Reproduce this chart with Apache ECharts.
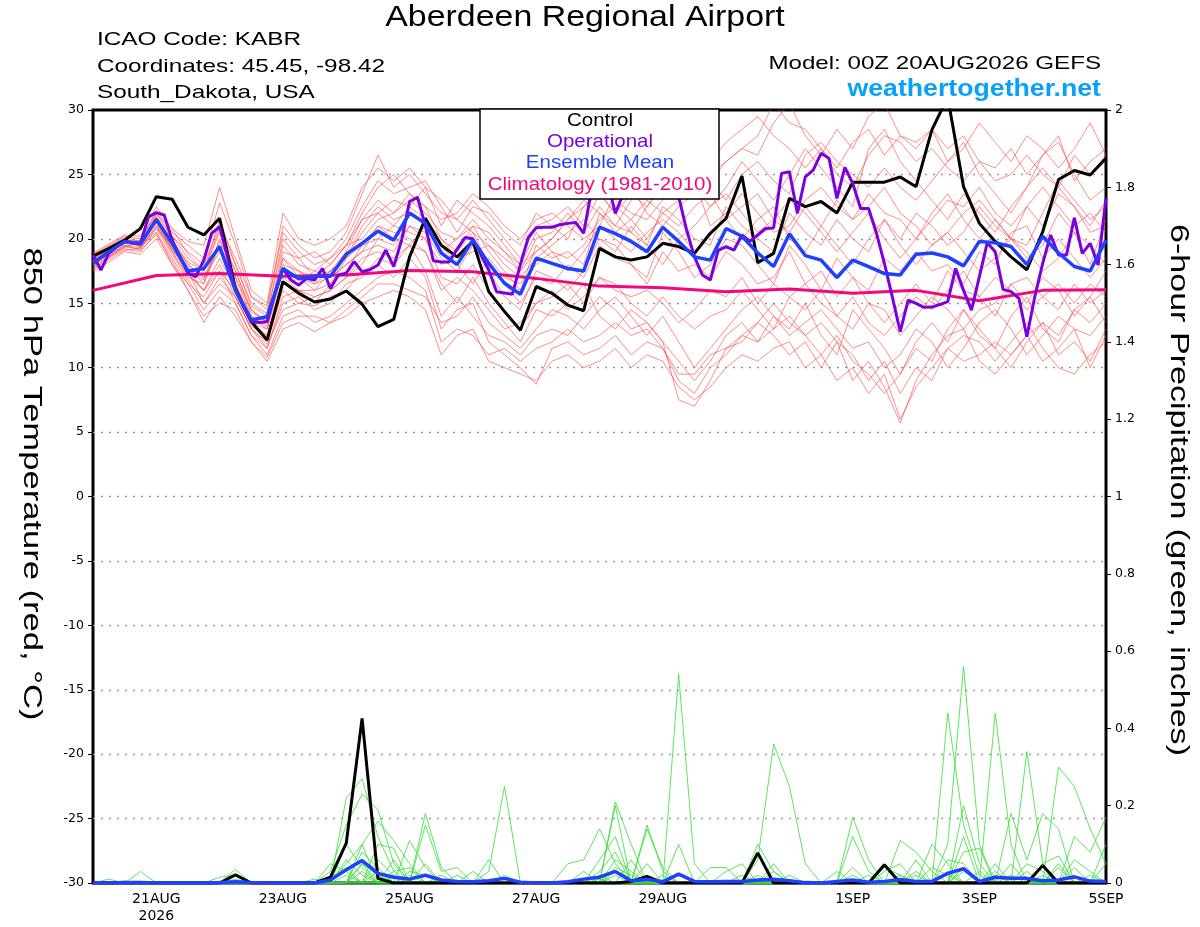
<!DOCTYPE html>
<html><head><meta charset="utf-8">
<script src="https://cdn.jsdelivr.net/npm/echarts@6/dist/echarts.min.js"></script>
<style>html,body{margin:0;padding:0;background:#fff}#c{width:1200px;height:927px}</style>
</head><body><div id="c"></div>
<script>
// ---------- tick labels ----------
const tickHours = [24, 72, 120, 168, 216, 288, 336, 384];
const tickLabels = ['21AUG\n2026', '23AUG', '25AUG', '27AUG', '29AUG', '1SEP', '3SEP', '5SEP'];

// ---------- 850 hPa temperature (6-hourly, from 00Z 20AUG) ----------
const control = [18.66,19.26,19.9,20.8,23.27,23.07,20.9,20.3,21.6,16.15,13.57,12.14,16.67,
15.77,15.1,15.33,15.95,14.94,13.18,13.75,18.6,21.6,19.5,18.6,19.8,15.9,
14.35,12.9,16.3,15.77,14.86,14.42,19.26,18.6,18.35,18.6,19.65,19.4,18.87,
20.43,21.6,24.88,18.15,18.87,23.15,22.5,22.9,22.0,24.4,24.4,24.4,24.8,
24.05,28.45,31.0,24.05,21.2,19.8,18.6,17.6,20.55,24.6,25.3,24.95,26.25];

const ensMean = [18.1,19.0,19.8,19.6,21.5,19.65,17.5,17.7,19.4,16.0,13.7,13.95,17.7,
16.9,17.1,17.1,18.8,19.65,20.6,19.9,22.0,21.2,18.9,18.0,19.9,18.1,
16.55,15.7,18.5,18.1,17.7,17.5,20.9,20.4,19.8,19.0,20.9,19.8,18.6,
18.35,20.8,20.2,18.9,17.85,20.4,18.7,18.35,17.0,18.35,17.85,17.3,17.2,
18.8,18.9,18.6,17.9,19.8,19.7,19.4,18.0,20.2,18.9,17.85,17.5,19.9];

// operational (3-hourly)
const operational = [18.74,17.58,18.87,19.4,19.8,19.7,19.65,21.7,22.03,21.85,19.9,18.6,17.33,17.06,18.35,20.43,
20.94,18.6,16.0,14.73,13.57,13.5,13.57,15.77,17.7,16.8,16.4,16.93,16.8,17.7,16.15,17.2,
17.33,18.23,17.45,17.6,17.97,19.13,17.85,19.9,22.9,23.23,21.0,18.3,18.2,18.2,19.2,20.1,
20.0,18.8,17.58,15.9,15.8,15.7,18.0,20.1,20.86,20.9,20.9,21.1,21.2,21.26,20.43,23.8,
25.0,24.5,21.98,23.5,25.0,25.5,24.5,25.0,26.0,25.0,23.3,20.7,18.6,17.2,16.8,19.1,
19.4,19.13,20.3,19.8,20.3,20.8,20.85,25.08,25.2,21.98,24.8,25.34,26.64,26.25,23.14,25.55,
24.3,22.36,22.36,20.43,18.1,15.5,12.79,15.25,14.99,14.68,14.7,14.9,15.12,17.7,16.0,14.47,
17.06,19.7,19.0,16.08,15.9,15.38,12.4,15.5,18.1,20.3,18.74,18.74,21.64,18.87,19.65,17.97,
23.14];

// climatology (daily)
const climatology = [16.0,17.15,17.3,17.1,17.2,17.55,17.45,16.93,16.33,16.2,15.9,16.1,15.77,16.0,15.2,16.0,16.05];

// ensemble members (6-hourly)
const ens01 = [18.5,19.2,19.8,19.9,22.2,20.5,19.5,18.5,22.8,19.5,15.5,14.5,21.0,
19.5,18.5,19.0,20.5,23.5,26.5,24.0,25.0,23.5,22.0,21.5,23.0,21.5,
20.0,18.5,21.0,21.5,22.5,21.0,23.5,22.0,23.5,22.5,24.0,23.0,25.5,
26.0,27.5,28.5,29.5,28.0,27.0,25.5,27.0,25.0,24.0,26.5,28.0,27.5,
26.0,27.0,25.5,24.5,26.0,25.5,27.0,25.0,26.5,28.0,24.5,26.0,27.0];
const ens02 = [17.5,18.2,19.0,18.8,20.0,18.0,16.0,13.5,15.5,14.0,12.0,10.5,13.0,
13.5,12.8,13.5,14.0,15.0,15.5,16.0,15.5,14.5,11.0,12.5,13.0,10.5,
10.0,9.5,9.0,10.5,11.0,10.0,10.5,11.5,10.0,11.0,10.5,8.5,7.5,
8.5,10.0,11.0,10.5,11.5,12.0,10.0,11.0,9.0,10.0,8.0,9.5,6.0,
8.5,10.0,11.5,10.5,11.0,12.0,11.0,12.5,10.5,11.5,13.0,10.0,12.5];
const ens03 = [18.0,18.8,19.5,19.3,21.0,19.0,17.0,16.5,20.0,17.0,14.5,13.5,18.5,
17.0,16.5,17.5,19.0,21.5,23.0,22.0,23.5,22.5,20.0,19.0,21.0,19.0,
17.5,16.0,19.5,18.5,19.0,18.0,22.0,21.0,20.5,19.5,22.5,21.5,20.0,
19.5,22.5,21.0,20.0,19.0,22.0,20.5,19.5,21.5,20.0,19.0,21.5,20.0,
22.0,21.0,19.5,20.5,22.5,21.0,20.0,18.5,19.5,22.0,20.5,18.0,21.5];
const ens04 = [18.3,19.0,19.8,19.5,21.3,19.2,17.5,15.0,17.0,15.5,13.0,11.5,15.0,
15.5,14.5,15.0,16.5,17.0,18.5,18.0,19.5,17.5,14.0,15.5,14.0,12.5,
12.0,11.0,12.5,13.0,12.5,14.0,15.5,14.5,13.0,13.5,12.0,10.5,9.0,
10.5,12.5,13.5,12.0,14.0,13.0,15.0,12.5,11.0,14.5,13.0,11.5,9.5,
12.0,13.5,12.0,14.5,13.0,11.5,14.0,15.5,13.0,12.0,14.5,13.5,15.0];
const ens05 = [18.8,19.5,20.2,20.0,22.0,20.2,18.5,17.5,21.5,18.0,15.0,14.2,19.5,
18.0,17.5,18.5,20.0,22.5,24.5,23.5,24.0,24.5,22.5,20.5,22.5,22.0,
20.5,19.5,22.0,21.0,20.0,22.5,24.0,23.0,22.0,21.5,23.0,24.5,26.0,
25.0,26.0,27.0,26.5,29.0,30.5,28.0,26.5,28.5,27.0,29.5,30.5,28.0,
27.5,28.5,27.0,28.0,26.0,24.5,25.0,26.5,25.0,24.0,26.5,25.0,26.5];
const ens06 = [17.8,18.6,19.2,19.0,20.5,18.5,16.5,14.5,16.0,15.0,12.5,11.0,14.0,
14.5,13.5,14.0,15.0,16.0,17.0,17.5,17.0,16.0,12.0,13.0,12.5,11.0,
11.5,10.5,11.5,12.0,13.0,12.0,12.5,13.5,12.5,13.0,11.5,9.5,9.5,
11.0,11.5,12.5,13.5,12.5,11.0,12.0,10.0,12.0,9.0,10.5,8.5,5.7,
9.0,11.0,12.5,13.0,10.5,9.5,11.0,12.5,13.5,11.0,12.0,10.5,13.0];
const ens07 = [18.2,19.0,19.6,19.8,21.6,20.0,18.0,17.0,19.0,16.5,13.5,12.5,17.0,
16.0,16.0,16.5,18.5,19.5,20.0,21.0,22.5,24.0,23.0,21.5,20.5,18.0,
16.5,15.0,17.0,16.5,18.0,17.0,19.5,18.5,18.0,16.5,19.0,17.5,18.0,
17.0,19.0,18.0,16.5,17.0,19.0,16.5,17.5,15.5,17.0,15.0,13.5,15.0,
16.5,15.0,17.5,16.0,15.5,17.0,16.0,14.5,15.5,16.5,15.0,16.5,15.5];
const ens08 = [17.6,18.5,19.4,19.2,20.8,19.5,17.5,16.0,18.0,15.5,13.0,12.0,16.0,
15.0,15.5,16.0,17.0,18.0,20.0,19.5,21.0,20.0,17.0,16.5,18.0,16.0,
14.5,13.0,15.0,15.5,16.5,15.0,17.0,16.0,15.5,16.0,15.0,13.5,14.5,
16.0,15.5,17.0,15.0,16.5,15.5,14.5,16.0,14.0,13.0,15.0,14.5,12.5,
14.0,15.5,14.5,13.0,14.5,15.0,16.5,15.0,17.0,16.0,14.0,15.5,17.5];
const ens09 = [18.6,19.3,20.0,19.7,21.8,20.2,19.0,18.0,21.0,18.5,15.5,14.8,20.5,
19.0,18.0,18.5,19.5,22.0,24.0,25.0,23.5,22.5,21.5,22.0,23.5,22.5,
21.0,20.0,21.5,22.0,21.0,20.0,21.0,23.5,24.0,22.0,21.0,22.5,23.5,
24.5,23.0,25.0,26.0,24.5,23.5,26.5,27.5,26.0,25.0,24.0,25.5,24.0,
23.0,24.5,26.0,27.5,25.0,23.5,22.0,24.0,25.5,24.0,22.5,21.0,23.0];
const ens10 = [18.0,18.9,19.7,19.6,21.2,19.0,17.2,16.0,18.5,16.0,13.5,13.0,17.5,
16.5,17.5,17.0,18.0,19.0,19.5,19.0,21.0,20.5,18.5,17.5,19.5,17.5,
15.5,14.5,17.5,17.0,16.0,17.5,20.0,19.5,18.0,17.0,20.5,19.0,17.0,
18.0,20.0,19.5,18.0,16.5,19.5,18.0,16.0,18.5,17.0,16.0,18.5,17.5,
19.0,17.5,18.0,16.5,19.0,18.0,20.5,21.0,18.5,20.0,18.5,17.0,18.5];
const ens11 = [18.4,19.1,19.9,19.4,20.5,18.0,16.5,15.5,17.5,15.0,12.5,11.5,15.5,
16.0,15.0,16.5,17.5,19.5,21.0,20.5,20.0,19.0,16.5,15.0,17.0,15.0,
13.5,12.0,14.5,14.0,15.0,16.5,14.0,13.0,14.5,13.5,12.0,7.5,7.0,
9.0,11.5,12.0,13.5,15.0,13.5,12.5,11.0,12.5,10.5,9.5,8.0,9.5,
11.5,10.5,13.0,14.5,12.5,11.5,10.0,12.0,13.5,12.5,14.5,15.5,13.5];
const ens12 = [18.1,18.7,19.3,19.9,21.9,20.8,18.8,17.5,20.5,17.5,14.5,13.5,19.0,
18.5,17.0,17.5,18.5,21.0,22.5,21.5,22.0,21.0,19.0,20.0,21.5,20.0,
19.0,17.5,20.0,20.5,22.0,20.5,22.5,21.0,23.0,24.5,23.5,25.5,24.0,
22.5,24.0,26.0,24.5,23.0,25.0,27.0,25.5,24.0,22.5,27.0,28.5,26.0,
24.5,23.0,21.5,23.5,22.0,20.5,22.5,24.0,26.5,27.5,25.0,23.0,24.0];
const ens13 = [17.9,18.6,19.5,19.1,20.3,18.3,16.0,14.0,15.0,14.5,12.0,10.8,13.5,
14.0,14.0,13.5,14.5,15.5,16.5,16.5,16.0,15.5,13.5,14.0,15.5,13.5,
12.5,11.5,13.0,14.5,14.0,13.0,14.5,15.5,14.0,12.5,14.0,12.0,10.0,
11.5,13.0,14.5,15.5,14.0,12.5,13.5,14.5,13.0,11.5,12.0,10.0,11.0,
13.0,12.0,10.0,11.5,13.5,14.5,13.0,11.0,12.5,14.0,13.0,12.5,14.0];
const ens14 = [18.9,19.6,20.3,20.2,22.5,20.8,19.8,19.5,24.0,20.0,16.0,15.0,22.0,
20.0,19.5,20.0,21.0,24.0,25.5,24.5,25.5,24.0,21.0,23.0,22.0,21.0,
19.5,18.0,19.0,20.0,21.5,23.0,22.0,20.5,21.5,23.0,22.0,21.0,22.5,
23.5,21.5,22.5,23.5,21.5,20.5,22.5,21.0,23.0,21.5,23.5,22.0,21.5,
20.0,21.5,23.0,22.5,24.0,22.0,21.0,22.5,21.0,23.5,22.5,20.5,21.0];
const ens15 = [18.3,19.2,19.9,19.5,21.4,19.5,17.8,16.5,19.5,16.5,14.0,13.0,18.0,
17.5,16.5,17.0,18.0,19.0,21.0,20.0,19.5,21.0,19.5,18.0,16.5,18.5,
17.0,16.5,18.0,19.0,17.5,19.0,21.0,20.0,19.0,20.5,21.5,20.5,19.0,
20.5,21.5,20.0,21.5,22.5,20.0,19.0,21.0,19.5,18.0,20.0,21.5,19.5,
18.0,19.5,20.5,19.0,17.5,18.5,20.0,19.0,17.5,18.5,20.5,19.5,18.0];
const ens16 = [17.7,18.4,19.1,19.3,20.8,18.8,16.8,15.0,16.5,15.5,13.0,11.8,14.5,
15.0,14.8,15.5,16.0,17.5,18.0,17.0,18.5,17.0,13.0,14.5,15.0,12.0,
11.0,10.0,8.7,11.5,12.0,11.0,11.5,12.5,11.0,12.0,11.5,9.0,8.0,
10.0,11.0,12.5,12.0,13.0,14.0,12.5,13.5,12.0,11.0,9.0,10.5,8.0,
10.0,9.0,11.5,12.5,12.0,10.5,12.0,13.5,11.5,10.0,9.5,11.0,12.0];
const ens17 = [18.6,19.4,20.1,19.8,21.7,19.8,18.2,17.5,20.8,18.0,14.8,14.0,20.0,
18.5,19.0,18.0,19.5,21.5,22.0,23.0,22.5,21.5,20.0,18.5,19.0,19.5,
18.0,17.0,18.5,19.5,20.5,21.5,20.0,19.0,21.0,19.5,18.0,20.0,21.0,
22.5,23.5,22.0,20.5,21.5,23.0,22.0,20.5,19.0,20.5,22.0,20.0,18.5,
20.0,22.0,23.5,21.5,20.0,21.5,20.0,22.5,24.0,22.5,21.0,22.0,20.5];
const ens18 = [18.2,18.9,19.7,19.4,21.0,19.2,17.6,16.8,19.5,17.0,14.0,13.2,17.5,
17.0,16.0,17.5,18.5,20.5,22.0,21.0,20.5,20.0,18.0,19.0,20.5,19.5,
18.5,17.5,19.0,20.0,21.5,22.5,23.5,22.0,20.5,22.5,24.5,25.0,23.5,
24.5,26.0,27.0,28.0,30.5,29.0,28.5,27.0,25.5,27.5,28.5,26.5,28.0,
27.0,28.5,26.0,27.0,29.0,27.5,26.0,28.0,27.0,25.5,27.0,29.0,26.5];
const ens19 = [18.0,18.8,19.4,19.7,21.3,19.3,17.3,16.0,17.5,16.0,13.2,12.5,16.5,
16.0,15.5,16.0,17.0,18.5,19.0,18.5,19.5,19.0,16.0,17.0,16.0,14.5,
13.0,13.5,15.0,16.0,14.5,15.5,17.0,16.5,15.0,14.0,15.5,14.0,13.0,
14.0,14.5,16.0,14.5,13.0,15.5,16.5,15.0,14.0,15.5,13.5,12.5,14.0,
15.5,14.5,16.0,17.5,15.5,14.0,16.5,17.0,15.5,14.5,16.5,15.0,16.0];
const ens20 = [18.4,19.2,19.9,19.6,21.5,19.7,18.0,17.0,19.8,17.5,14.3,13.6,18.5,
17.5,17.0,18.0,19.5,20.0,21.5,22.0,23.0,22.0,20.5,20.0,21.0,20.5,
19.0,18.0,20.5,19.0,18.5,19.5,21.5,22.5,21.5,20.0,22.0,23.0,24.5,
21.0,22.0,23.5,22.0,20.5,21.0,23.0,24.0,22.5,21.5,22.5,24.0,22.0,
21.0,19.5,20.5,22.0,23.0,21.5,20.0,19.5,22.0,24.5,23.0,21.5,22.5];
const tempMembers = [ens01,ens02,ens03,ens04,ens05,ens06,ens07,ens08,ens09,ens10,ens11,ens12,ens13,ens14,ens15,ens16,ens17,ens18,ens19,ens20];

// ---------- 6-hour precipitation (inches) ----------
const precipControl = [0,0,0,0,0,0,0,0,0,0.021,0,0,0,
0,0,0.015,0.103,0.426,0.012,0,0,0,0,0,0,0,
0,0,0,0,0,0,0,0,0.004,0.017,0,0,0,
0,0,0,0.078,0,0,0,0,0,0,0,0.047,0,
0,0,0,0,0,0,0,0,0.045,0,0,0,0];
const precipMean = [0,0,0.001,0.001,0,0,0,0,0.001,0.003,0.001,0,0,
0,0,0.008,0.034,0.058,0.025,0.015,0.01,0.02,0.008,0.004,0.003,0.006,
0.012,0.002,0,0,0.003,0.01,0.015,0.03,0.006,0.01,0.003,0.023,0.004,
0.003,0.004,0.004,0.008,0.01,0.006,0.001,0,0.004,0.008,0.002,0.004,0.009,
0.004,0.004,0.025,0.037,0.004,0.015,0.012,0.012,0.006,0.008,0.016,0.005,0.004];
const pr01 = [0,0,0,.03,0,0,0,0,0,0,0,0,0, 0,0,0,.22,.27,.12,.03,0,0,0,0,0,0, 0,0,0,0,0,0,0,0,0,0,0,0,0, 0,0,0,0,.05,0,0,0,0,0,0,0,0, 0,0,0,.2,.05,0,0,0,0,0,0,0,0];
const pr02 = [0,0,0,0,0,0,0,0,0,0,0,0,0, 0,0,.03,.15,.23,.19,.05,0,0,0,0,0,0, 0,0,0,0,0,0,0,0,0,0,0,.54,.05, 0,0,0,0,0,0,0,0,0,0,0,0,0, 0,0,.1,.56,.1,0,0,0,0,0,0,0,0];
const pr03 = [0,0,0,0,0,0,0,0,0,.035,0,0,0, 0,0,0,0,.1,.16,.11,.05,0,0,0,0,0, 0,0,0,0,0,0,0,.21,.1,0,0,0,0, 0,0,0,.06,.36,.25,.05,0,0,0,0,0,0, 0,0,0,0,0,0,0,0,0,.3,.25,.14,.05];
const pr04 = [0,0,0,0,0,0,0,0,0,0,0,0,0, 0,0,0,0,.05,0,0,.11,.04,0,0,0,.03, .25,0,0,0,0,0,.06,.12,0,0,0,0,0, 0,0,0,0,0,0,0,0,0,.17,.06,0,0, 0,0,0,0,0,.44,.1,0,0,0,0,0,0];
const pr05 = [0,0,0,0,0,0,0,0,0,0,0,0,0, 0,0,0,0,0,.1,.09,0,.18,.04,0,0,0, 0,0,0,0,0,0,0,.2,0,.15,.03,0,0, 0,0,0,0,0,0,0,0,0,0,0,0,0, 0,0,.44,.15,.02,0,0,0,0,0,0,0,0];
const pr06 = [0,0,0,0,0,0,0,0,0,0,0,0,0, 0,0,0,.05,.1,0,0,0,.15,.03,.04,0,0, 0,0,0,0,.05,.06,.14,.05,0,0,0,0,0, 0,0,0,0,0,0,0,0,0,0,0,0,0, 0,0,0,0,0,0,0,.34,.05,0,0,0,0];
const pr07 = [0,0,0,0,0,0,0,0,.015,.02,0,0,0, 0,0,0,0,.05,.02,0,0,0,0,0,0,.06, 0,0,0,0,0,0,0,0,0,.14,.04,0,0, 0,0,0,.1,.03,0,0,0,0,0,0,0,.11, .08,.03,0,0,0,0,.18,.06,.18,.14,0,0,0];
const pr08 = [0,0,0,0,0,0,0,0,0,0,0,0,0, 0,0,.05,.03,0,0,.03,.04,0,0,0,0,0, 0,0,0,0,0,0,0,0,.06,0,0,.1,0, 0,.03,.05,0,0,0,0,0,0,.12,.03,0,0, 0,0,0,.12,0,.05,0,0,0,0,.12,.08,.17];
const pr09 = [0,0,0,0,0,0,0,0,0,0,0,0,0, 0,.01,0,.1,.04,0,0,0,0,.02,0,.03,0, 0,0,0,0,0,0,.03,.08,0,0,0,0,0, 0,0,0,0,0,0,0,0,.03,0,0,.03,.05, 0,.1,.05,0,0,0,0,0,.05,.07,0,0,.05];
const pr10 = [0,0,0,0,0,0,0,0,0,0,0,0,0, 0,0,0,0,0,.06,.02,0,.05,0,.02,0,0, 0,0,0,0,0,.03,0,0,0,0,0,0,0, .04,.04,0,0,0,.02,0,0,0,0,0,0,0, .06,0,0,.08,.09,0,0,.03,0,0,.04,0,0];
const pr11 = [0,.01,0,0,0,0,0,0,0,.01,0,0,0, 0,0,0,0,.03,0,0,.02,0,0,0,0,0, 0,0,0,0,0,0,0,.04,.02,0,0,0,0, 0,0,0,0,0,0,0,0,0,.04,0,0,0, 0,0,.06,.05,0,0,0,0,0,.05,0,.02,0];
const pr12 = [0,0,0,0,0,0,0,0,0,0,0,0,0, 0,0,0,.02,0,0,.06,0,0,0,0,0,0, .02,0,0,0,0,0,.02,0,0,.05,0,0,0, 0,0,0,.02,0,0,0,0,0,0,0,0,0, .03,0,0,.04,0,0,.05,0,0,0,0,0,.1];
const pr13 = [0,0,0,0,0,0,0,0,0,0,0,0,0, 0,0,0,0,.08,.04,0,0,0,0,0,0,0, 0,0,0,0,0,0,0,.03,0,0,0,0,0, 0,0,0,0,0,0,0,0,0,0,.02,0,0, 0,0,.03,0,0,.02,0,0,0,.04,0,0,0];
const pr14 = [0,0,0,0,0,0,0,0,0,0,0,0,0, 0,0,0,0,0,0,0,.03,.02,0,0,0,0, 0,0,0,0,0,0,0,0,0,0,.02,0,0, 0,0,.02,0,0,0,0,0,0,0,0,0,.02, 0,0,0,0,.03,0,0,.05,.03,0,0,0,0];
const pr15 = [0,0,0,0,0,0,0,0,0,0,0,0,0, 0,0,.015,.04,0,0,0,0,0,0,0,0,0, 0,0,0,0,0,0,0,.06,.03,0,0,0,0, 0,0,0,0,0,0,0,0,0,0,0,0,0, 0,.04,.02,0,0,0,0,0,0,0,.06,.03,0];
const pr16 = [0,0,0,0,0,0,0,0,0,0,0,0,0, 0,0,0,0,0,.03,0,0,0,.01,0,0,0, 0,0,0,0,0,0,0,0,0,0,0,0,0, 0,0,0,0,.03,0,0,0,0,0,0,0,0, 0,0,0,.03,0,0,.02,0,0,0,0,0,0];
const pr17 = [0,0,.005,0,0,0,0,0,0,0,0,0,0, 0,0,0,.06,.02,0,0,0,0,0,0,0,0, 0,0,0,0,0,0,0,.02,0,0,0,0,0, 0,0,0,0,0,0,0,0,0,0,0,.04,.02, 0,0,0,0,0,.03,0,0,0,0,0,0,0];
const pr18 = [0,0,0,0,0,0,0,0,0,0,0,0,0, 0,0,0,0,0,0,.015,0,0,0,0,0,0, 0,0,0,0,0,0,.01,0,0,0,0,0,0, 0,0,0,0,0,0,0,0,0,.02,0,0,0, .02,0,0,0,0,0,0,0,.02,0,0,0,0];
const precipMembers = [pr01,pr02,pr03,pr04,pr05,pr06,pr07,pr08,pr09,pr10,pr11,pr12,pr13,pr14,pr15,pr16,pr17,pr18];

// ---------- chart ----------
const FONT = '"Liberation Sans", Arial, Helvetica, sans-serif';
const TICKFONT = '"DejaVu Sans", Verdana, sans-serif';
const toPairs = (arr, step) => arr.map((v, i) => [i * step, v]);
const series = [];
tempMembers.forEach(m => series.push({
  type: 'line', yAxisIndex: 0, data: toPairs(m, 6), symbol: 'none', silent: true, z: 1,
  lineStyle: { color: '#ff4a4a', width: 0.7, opacity: 0.9 }
}));
precipMembers.forEach(m => series.push({
  type: 'line', yAxisIndex: 1, data: toPairs(m, 6), symbol: 'none', silent: true, z: 1,
  lineStyle: { color: '#33dd33', width: 0.8 }
}));
series.push({ type: 'line', yAxisIndex: 0, data: toPairs(climatology, 24), symbol: 'none', z: 3,
  lineStyle: { color: '#f0087c', width: 3 } });
series.push({ type: 'line', yAxisIndex: 0, data: toPairs(control, 6), symbol: 'none', z: 4,
  lineStyle: { color: '#000', width: 3 } });
series.push({ type: 'line', yAxisIndex: 0, data: toPairs(operational, 3), symbol: 'none', z: 5,
  lineStyle: { color: '#7a00dd', width: 3 } });
series.push({ type: 'line', yAxisIndex: 0, data: toPairs(ensMean, 6), symbol: 'none', z: 6,
  lineStyle: { color: '#2040ff', width: 3.5 } });
series.push({ type: 'line', yAxisIndex: 1, data: toPairs(precipControl, 6), symbol: 'none', z: 4,
  lineStyle: { color: '#000', width: 3 } });
series.push({ type: 'line', yAxisIndex: 1, data: toPairs(precipMean, 6), symbol: 'none', z: 6,
  lineStyle: { color: '#2040ff', width: 3.5 } });

const txt = (text, x, y, size, opts) => Object.assign({
  type: 'text', x: x, y: y, z: 100,
  style: Object.assign({ text: text, font: size + 'px ' + FONT, fill: '#000', align: 'left', verticalAlign: 'middle' }, opts && opts.style)
}, opts && opts.el);

const option = {
  animation: false,
  backgroundColor: '#fff',
  grid: { left: 93, right: 94, top: 110, bottom: 44, show: true, borderColor: '#000', borderWidth: 3, backgroundColor: 'transparent' },
  xAxis: {
    type: 'value', min: 0, max: 384, interval: 24,
    axisLine: { show: false }, axisTick: { show: false }, splitLine: { show: false },
    axisLabel: {
      color: '#000', fontSize: 14, fontFamily: TICKFONT, margin: 8, lineHeight: 17,
      formatter: v => { const i = tickHours.indexOf(v); return i >= 0 ? tickLabels[i] : ''; }
    }
  },
  yAxis: [{
    type: 'value', min: -30, max: 30, interval: 5, position: 'left',
    axisLine: { show: false },
    axisTick: { show: true, length: 5, lineStyle: { color: '#000', width: 1 } },
    axisLabel: { color: '#000', fontSize: 12.5, fontFamily: TICKFONT, margin: 9 },
    splitLine: { show: true, showMinLine: false, showMaxLine: false, lineStyle: { color: '#9a9a9a', type: [2, 6], width: 1.3 } }
  }, {
    type: 'value', min: 0, max: 2, interval: 0.2, position: 'right',
    axisLine: { show: false },
    axisTick: { show: true, length: 5, lineStyle: { color: '#000', width: 1 } },
    axisLabel: { color: '#000', fontSize: 12.5, fontFamily: TICKFONT, margin: 9, formatter: v => String(parseFloat(v.toFixed(1))) },
    splitLine: { show: false }
  }],
  graphic: [
    txt('Aberdeen Regional Airport', 585, 18, 30, { style: { align: 'center' }, el: { scaleX: 1.13 } }),
    txt('ICAO Code: KABR', 97, 40, 19, { el: { scaleX: 1.28 } }),
    txt('Coordinates: 45.45, -98.42', 97, 66.5, 19, { el: { scaleX: 1.28 } }),
    txt('South_Dakota, USA', 97, 92.5, 19, { el: { scaleX: 1.28 } }),
    txt('Model: 00Z 20AUG2026 GEFS', 1101, 64, 19, { style: { align: 'right' }, el: { scaleX: 1.27 } }),
    txt('weathertogether.net', 1101, 89.5, 23, { style: { align: 'right', fill: '#08a0f8', font: 'bold 23px ' + FONT }, el: { scaleX: 1.16 } }),
    { type: 'rect', z: 99, shape: { x: 480, y: 109, width: 239, height: 90 }, style: { fill: '#fff', stroke: '#000', lineWidth: 1.5 } },
    txt('Control', 600, 121, 19, { style: { align: 'center' }, el: { scaleX: 1.08 } }),
    txt('Operational', 600, 142, 19, { style: { align: 'center', fill: '#7a00dd' }, el: { scaleX: 1.08 } }),
    txt('Ensemble Mean', 600, 163, 19, { style: { align: 'center', fill: '#2040ff' }, el: { scaleX: 1.08 } }),
    txt('Climatology (1981-2010)', 600, 185, 19, { style: { align: 'center', fill: '#f0087c' }, el: { scaleX: 1.08 } }),
    txt('850 hPa Temperature (red, °C)', 31, 484, 26, { style: { align: 'center' }, el: { rotation: -Math.PI / 2, scaleX: 1.33 } }),
    txt('6-hour Precipitation (green, inches)', 1178, 490, 26, { style: { align: 'center' }, el: { rotation: -Math.PI / 2, scaleX: 1.31 } })
  ],
  series: series
};
const chart = echarts.init(document.getElementById('c'));
chart.setOption(option);
</script></body></html>
